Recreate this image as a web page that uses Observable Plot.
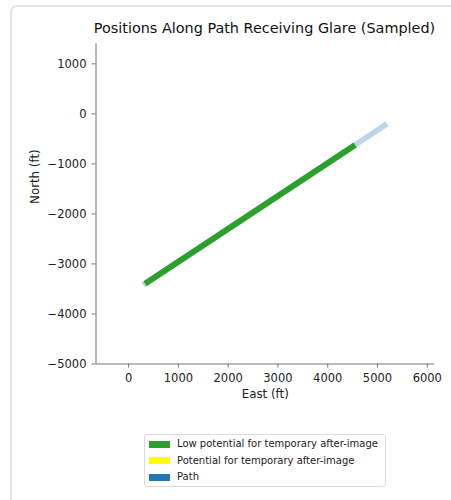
<!DOCTYPE html>
<html>
<head>
<meta charset="utf-8">
<script src="https://cdn.jsdelivr.net/npm/d3@7"></script>
<script src="https://cdn.jsdelivr.net/npm/@observablehq/plot@0.6"></script>
<style>
  body { margin: 0; background: #fff; font-family: "DejaVu Sans", sans-serif; }
  #wrap { position: relative; width: 451px; height: 500px; overflow: hidden; }
  #card { position: absolute; left: 10px; top: 5px; width: 480px; height: 520px; border: 2px solid #e4e4e4; border-radius: 7px; box-sizing: border-box; }
  #title { position: absolute; left: 0; top: 20px; width: 529px; text-align: center; font-size: 14.4px; color: #111; white-space: nowrap; }
  #chart { position: absolute; left: 0; top: 0; }
  #legend { position: absolute; left: 144px; top: 434px; width: 242px; height: 53px; border: 1px solid #dcdcdc; border-radius: 3px; box-sizing: border-box; padding-top: 1px; }
  .item { position: relative; height: 16.5px; font-size: 10px; color: #222; }
  .sw { position: absolute; left: 4px; top: 4.5px; width: 21px; height: 7px; }
  .lbl { position: absolute; left: 32px; top: 0px; line-height: 16.5px; white-space: nowrap; }
</style>
</head>
<body>
<div id="wrap">
  <div id="card"></div>
  <div id="chart"></div>
  <div id="title"></div>
  <div id="legend"></div>
</div>
<script>
const titleText = "Positions Along Path Receiving Glare (Sampled)";
const xLabel = "East (ft)";
const yLabel = "North (ft)";
const xTicks = [0, 1000, 2000, 3000, 4000, 5000, 6000];
const yTicks = [1000, 0, -1000, -2000, -3000, -4000, -5000];
const xDomain = [-655, 6145];
const yDomain = [-5000, 1400];

// Full path (light blue)
const pathEast = [290, 5190];
const pathNorth = [-3420, -200];
// Sampled positions receiving glare (green, low potential)
const glareEast = [330, 4550];
const glareNorth = [-3394, -621];

const legendLabels = ["Low potential for temporary after-image", "Potential for temporary after-image", "Path"];
const legendColors = ["#2ca02c", "#ffff00", "#1f77b4"];

const pathData = pathEast.map((e, i) => ({east: e, north: pathNorth[i]}));
const glareData = glareEast.map((e, i) => ({east: e, north: glareNorth[i]}));

document.getElementById("title").textContent = titleText;

const W = 451, H = 400;
const plot = Plot.plot({
  width: W,
  height: H,
  marginLeft: 95.5,
  marginRight: 17,
  marginTop: 43.3,
  marginBottom: 36.5,
  style: {fontFamily: "DejaVu Sans", fontSize: "11.5px", color: "#222", background: "transparent"},
  x: {domain: xDomain, axis: null},
  y: {domain: yDomain, axis: null},
  marks: [
    Plot.line(pathData, {x: "east", y: "north", stroke: "#1f77b4", strokeOpacity: 0.3, strokeWidth: 5.5, strokeLinecap: "butt"}),
    Plot.line(glareData, {x: "east", y: "north", stroke: "#2ca02c", strokeWidth: 6, strokeLinecap: "butt"}),
    Plot.ruleY([yDomain[0]], {stroke: "#777", strokeWidth: 1}),
    Plot.ruleX([xDomain[0]], {stroke: "#777", strokeWidth: 1}),
    Plot.axisX({ticks: xTicks, tickSize: 4, tickPadding: 5.5, stroke: "#777", anchor: "bottom", label: null, tickFormat: d3.format("d"), fill: "#222"}),
    Plot.axisY({ticks: yTicks, tickSize: 4, tickPadding: 5.5, stroke: "#777", anchor: "left", label: null, tickFormat: d => d3.format("d")(d).replace("-", "\u2212"), fill: "#222"}),
    Plot.text([xLabel], {frameAnchor: "bottom", dy: 34, fontSize: 11.8, fill: "#222", text: d => d}),
    Plot.text([yLabel], {frameAnchor: "left", dx: -61, rotate: -90, fontSize: 11.8, fill: "#222", text: d => d})
  ]
});
document.getElementById("chart").appendChild(plot);

const legend = document.getElementById("legend");
legendLabels.forEach((l, i) => {
  const it = document.createElement("div");
  it.className = "item";
  const sw = document.createElement("div");
  sw.className = "sw";
  sw.style.background = legendColors[i];
  const lb = document.createElement("div");
  lb.className = "lbl";
  lb.textContent = l;
  it.appendChild(sw); it.appendChild(lb);
  legend.appendChild(it);
});
</script>
</body>
</html>
